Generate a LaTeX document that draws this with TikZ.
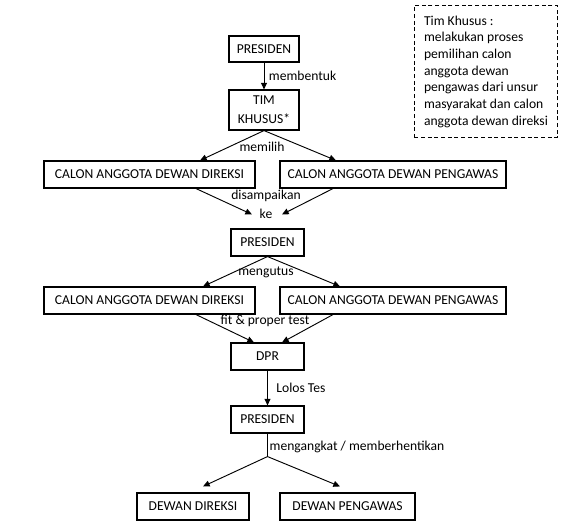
\documentclass[tikz,border=0pt]{standalone}
\usepackage{fontspec}
\setmainfont{Carlito}
\usetikzlibrary{arrows.meta, positioning, calc}

\begin{document}
\begin{tikzpicture}[
    x=0.75pt, y=-0.75pt, % one unit is one pixel of the sketch, y grows downwards
    >={Triangle[length=5pt, width=4.5pt]},
    every node/.style={font={\fontsize{10.2pt}{12.5pt}\selectfont}}, % text size of every node
    box/.style={draw, line width=0.85pt, align=center, inner sep=0pt}, % the framed boxes
    boxsize/.style 2 args={minimum width=#1*0.75pt, minimum height=#2*0.75pt},
    link/.style={->, line width=0.7pt},
    note/.style={draw, line width=0.7pt, dash pattern=on 3pt off 2pt, align=left, inner sep=0pt}
  ]

  \useasboundingbox (0,0) rectangle (563,524);

  \node[box, boxsize={70}{26}] (pres1) at (264,49) {PRESIDEN};
  \node[box, boxsize={70}{40}] (tim) at (264,110) {TIM\\[1.5pt]KHUSUS*};
  \node[box, boxsize={211}{27}] (dir1) at (149.5,174.5) {CALON ANGGOTA DEWAN DIREKSI};
  \node[box, boxsize={226}{27}] (peng1) at (393,174.5) {CALON ANGGOTA DEWAN PENGAWAS};
  \node[box, boxsize={73}{27}] (pres2) at (267.5,242.5) {PRESIDEN};
  \node[box, boxsize={211}{27}] (dir2) at (149.5,300.5) {CALON ANGGOTA DEWAN DIREKSI};
  \node[box, boxsize={226}{27}] (peng2) at (393,300.5) {CALON ANGGOTA DEWAN PENGAWAS};
  \node[box, boxsize={73}{27}] (dpr) at (267.5,356.5) {DPR};
  \node[box, boxsize={73}{27}] (pres3) at (267.5,419.5) {PRESIDEN};
  \node[box, boxsize={112}{27}] (dewdir) at (193,506.5) {DEWAN DIREKSI};
  \node[box, boxsize={135}{27}] (dewpeng) at (347.5,506.5) {DEWAN PENGAWAS};

  % keterangan tim khusus
  \node[note, boxsize={143}{132}, anchor=north west] (note) at (414,5) {
    Tim Khusus :\\
    melakukan proses\\
    pemilihan calon\\
    anggota dewan\\
    pengawas dari unsur\\
    masyarakat dan calon\\
    anggota dewan direksi
  };

  \draw[link] (pres1) -- node[right] {membentuk} (tim);

  \draw[link] (tim.south) -- ($(dir1.north)+(50.5,0)$);
  \draw[link] (tim.south) -- ($(peng1.north)+(-57,0)$);
  \node (memilih) at (262,147) {memilih};

  \draw[link] ($(dir1.south)+(46.5,0)$) -- ($(pres2.north)+(-15.5,-14)$);
  \draw[link] ($(peng1.south)+(-60,0)$) -- ($(pres2.north)+(14.5,-14)$);
  \node[align=center] (disampaikan) at (266,204) {disampaikan\\[2pt]ke};

  \draw[link] (pres2.south) -- ($(dir2.north)+(53.5,0)$);
  \draw[link] (pres2.south) -- ($(peng2.north)+(-53,0)$);
  \node (mengutus) at (266,272) {mengutus};

  \draw[link] ($(dir2.south)+(46.5,0)$) -- ($(dpr.north)+(-13.5,0)$);
  \draw[link] ($(peng2.south)+(-60,0)$) -- ($(dpr.north)+(14.5,0)$);
  \node (fit) at (265,321) {fit \& proper test};

  \draw[link] (dpr) -- node[right, xshift=3pt] {Lolos Tes} (pres3);

  \coordinate (split) at ($(pres3.south)+(0,23)$);
  \draw[line width=0.7pt] (pres3.south) -- (split);
  \draw[link] (split) -- ($(dewdir.north)+(10,-6)$);
  \draw[link] (split) -- ($(dewpeng.north)+(-7.5,-6)$);
  \node[anchor=west] (angkat) at (265,447) {mengangkat / memberhentikan};

\end{tikzpicture}
\end{document}
